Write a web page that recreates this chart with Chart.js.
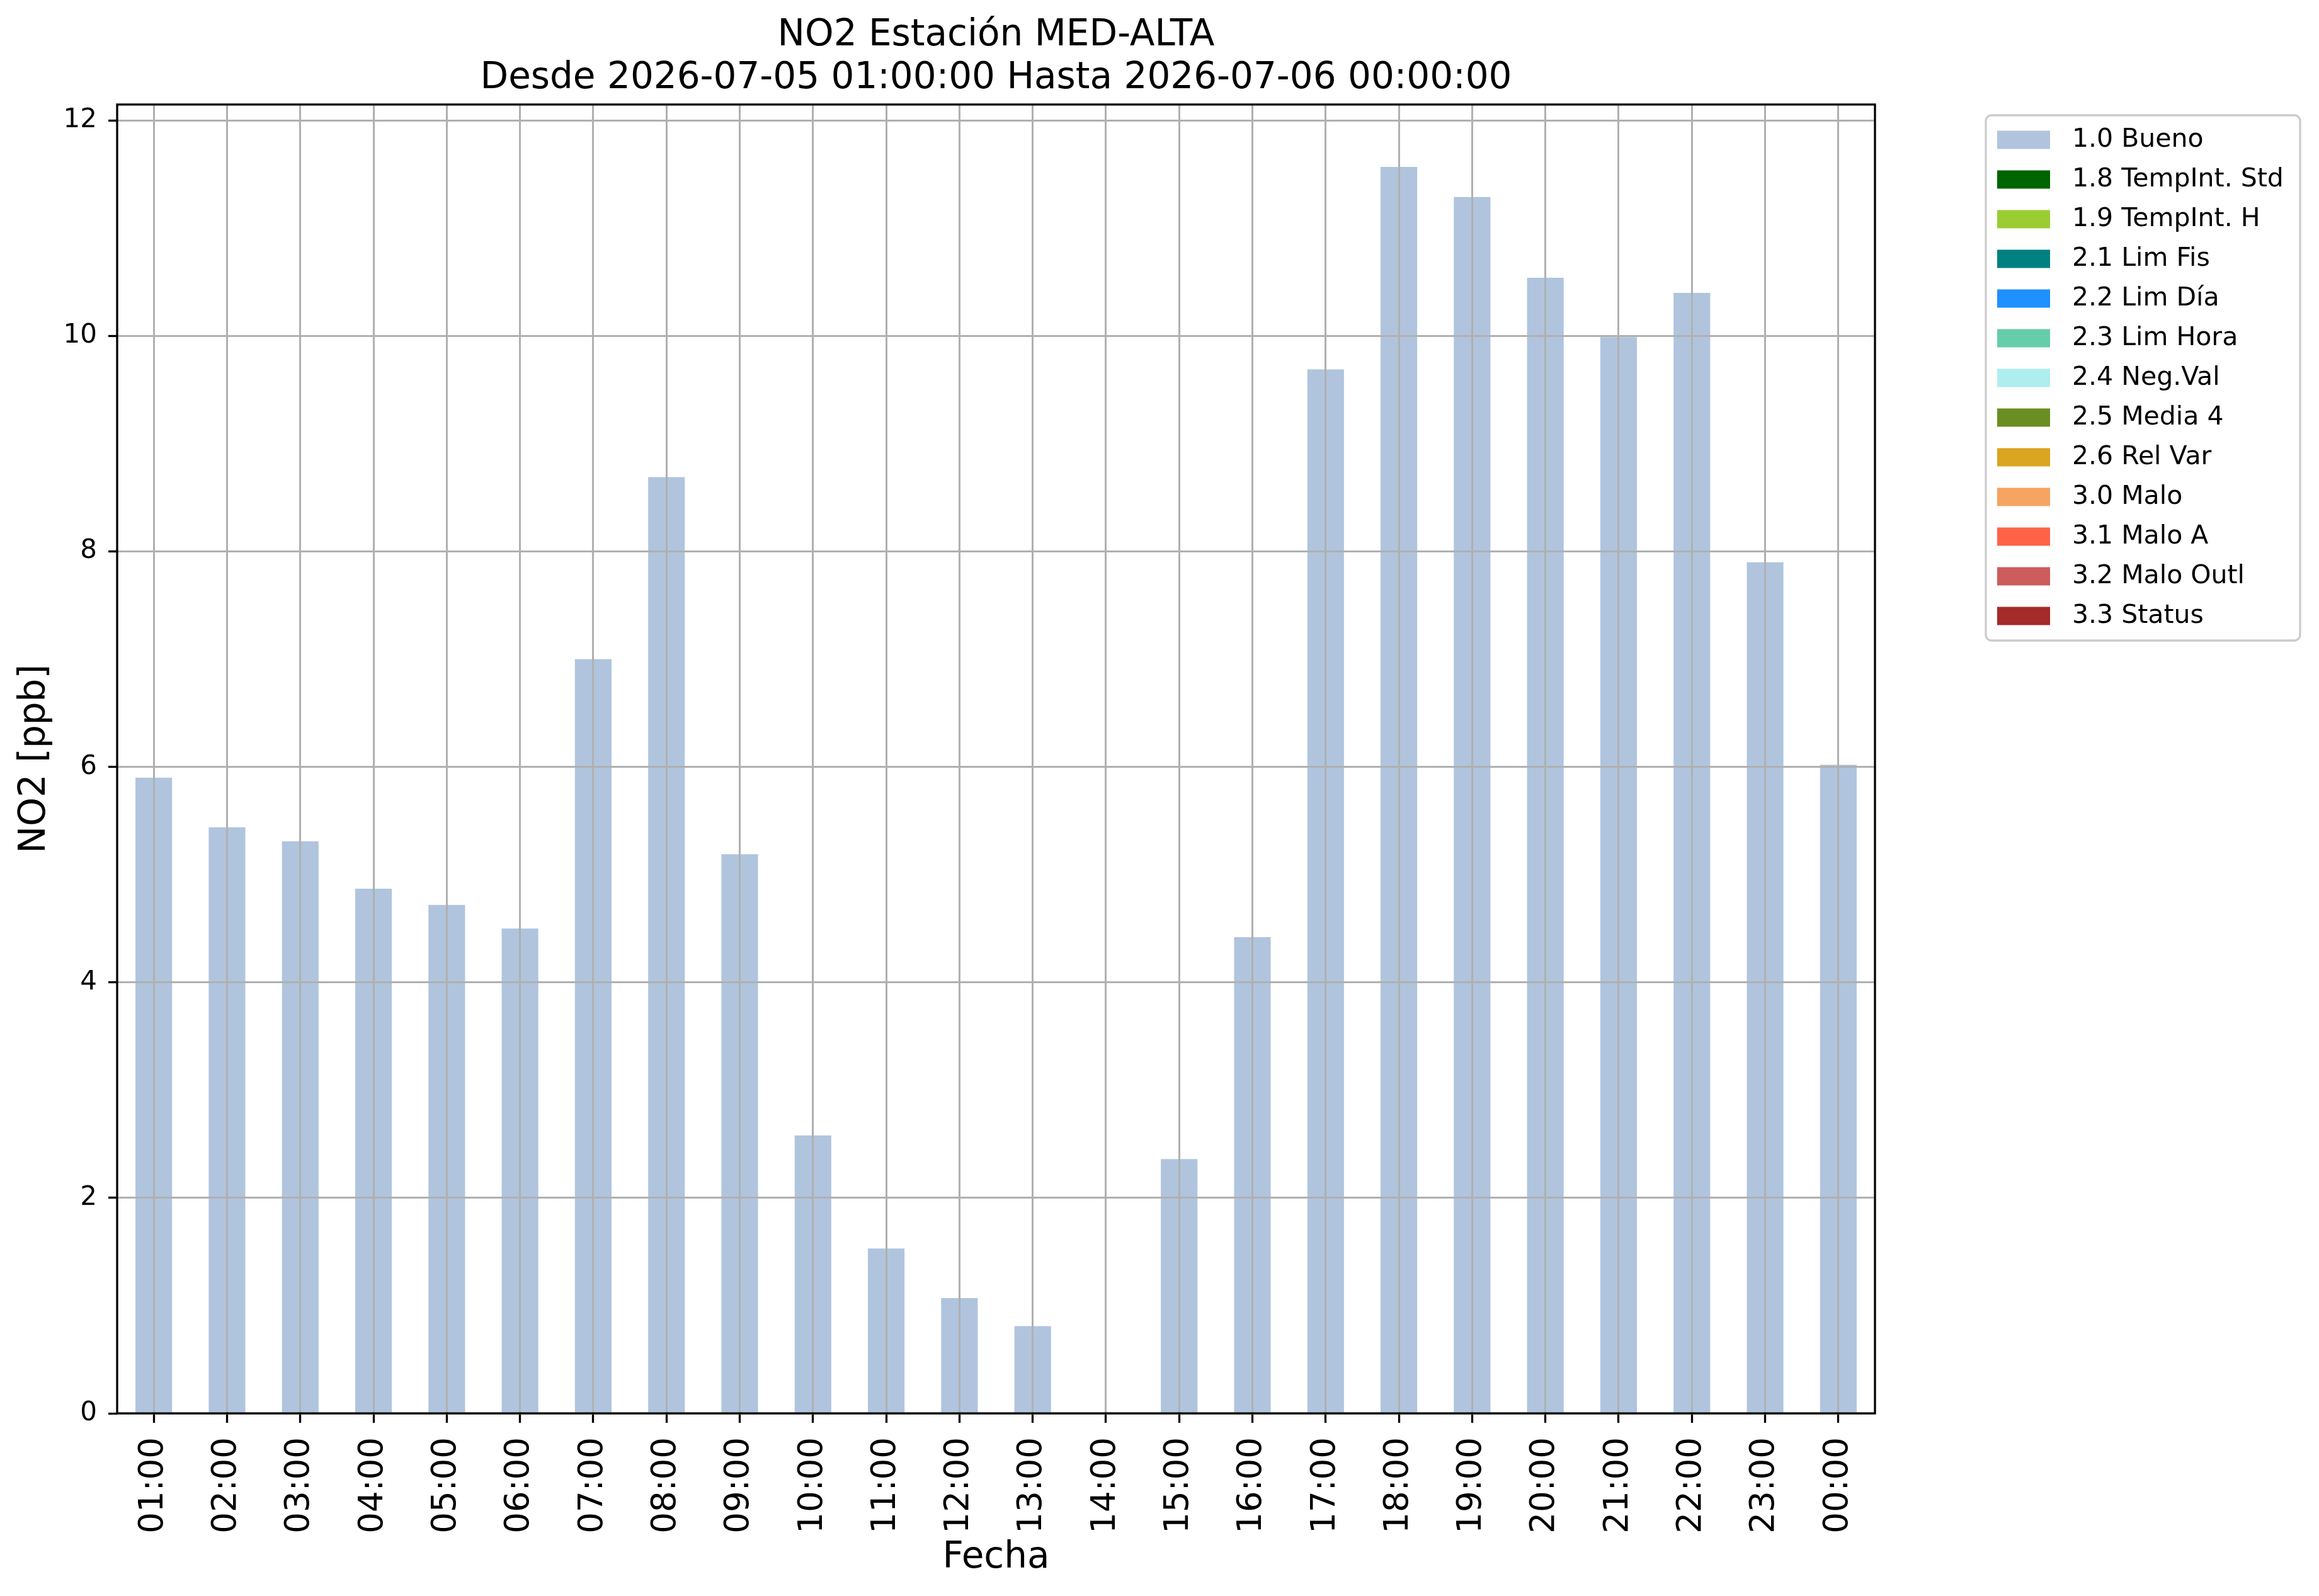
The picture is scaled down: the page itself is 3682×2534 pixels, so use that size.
<!DOCTYPE html>
<html>
<head>
<meta charset="utf-8">
<title>NO2 Estación MED-ALTA</title>
<script src="https://cdn.jsdelivr.net/npm/chart.js@4.4.1/dist/chart.umd.min.js"></script>
<style>
  html, body { margin: 0; padding: 0; background: #fff; overflow: hidden; }
  canvas { display: block; }
</style>
</head>
<body>
<canvas id="myChart" width="3682" height="2534"></canvas>
<script>
'use strict';
let hours = ['01:00', '02:00', '03:00', '04:00', '05:00', '06:00', '07:00', '08:00',
    '09:00', '10:00', '11:00', '12:00', '13:00', '14:00', '15:00', '16:00',
    '17:00', '18:00', '19:00', '20:00', '21:00', '22:00', '23:00', '00:00'];
// NO2 [ppb] con flag 1.0 Bueno
let bueno = [5.90, 5.44, 5.31, 4.87, 4.72, 4.50, 7.00, 8.69,
    5.19, 2.58, 1.53, 1.07, 0.81, 0, 2.36, 4.42,
    9.69, 11.57, 11.29, 10.54, 9.99, 10.40, 7.90, 6.02];
let flagNames = ['1.0 Bueno', '1.8 TempInt. Std', '1.9 TempInt. H', '2.1 Lim Fis',
    '2.2 Lim Día', '2.3 Lim Hora', '2.4 Neg.Val', '2.5 Media 4', '2.6 Rel Var',
    '3.0 Malo', '3.1 Malo A', '3.2 Malo Outl', '3.3 Status'];
let flagColors = ['#b0c4de', '#006400', '#9acd32', '#008080', '#1e90ff', '#66cdaa',
    '#afeeee', '#6b8e23', '#daa520', '#f4a460', '#ff6347', '#cd5c5c', '#a52a2a'];
let yStep = 2;
let titleLines = ['NO2 Estación MED-ALTA', 'Desde 2026-07-05 01:00:00 Hasta 2026-07-06 00:00:00'];

const FONT = "'DejaVu Sans', 'Liberation Sans', sans-serif";
Chart.defaults.color = '#000';
Chart.defaults.font.family = FONT;

let datasets = [];
for (let i = 0; i < flagNames.length; i++) {
    datasets.push({
        label: flagNames[i],
        data: i === 0 ? bueno : [],
        backgroundColor: flagColors[i],
        borderWidth: 0,
        barPercentage: 0.5,
        categoryPercentage: 1.0
    });
}

// marco de los cuatro lados como en matplotlib
let framePlugin = {
    id: 'frame',
    afterDraw(chart) {
        let a = chart.chartArea;
        let ctx = chart.ctx;
        ctx.save();
        ctx.strokeStyle = '#000';
        ctx.lineWidth = 3.3;
        ctx.strokeRect(a.left, a.top, a.right - a.left, a.bottom - a.top);
        ctx.restore();
    }
};

// leyenda a la derecha, fuera del área
let legendPlugin = {
    id: 'flagLegend',
    afterDraw(chart) {
        let ctx = chart.ctx;
        let x0 = 3153, y0 = 183, w = 499, h = 834;
        ctx.save();
        ctx.beginPath();
        ctx.roundRect(x0, y0, w, h, 9);
        ctx.fillStyle = 'rgba(255,255,255,0.8)';
        ctx.fill();
        ctx.lineWidth = 3.3;
        ctx.strokeStyle = '#cccccc';
        ctx.stroke();
        ctx.font = '41px ' + FONT;
        ctx.textBaseline = 'middle';
        ctx.textAlign = 'left';
        chart.data.datasets.forEach((ds, i) => {
            let cy = 222 + i * 63;
            ctx.fillStyle = ds.backgroundColor;
            ctx.fillRect(3171, cy - 14.5, 84, 29);
            ctx.fillStyle = '#000';
            ctx.fillText(ds.label, 3290, cy);
        });
        ctx.restore();
    }
};

let ctx = document.getElementById('myChart').getContext('2d');
let myChart = new Chart(ctx, {
    type: 'bar',
    data: {
        labels: hours,
        datasets: datasets
    },
    options: {
        responsive: false,
        animation: false,
        devicePixelRatio: 1,
        events: [],
        layout: { padding: { left: 0, right: 705, top: 0, bottom: 0 } },
        plugins: {
            legend: { display: false },
            tooltip: { enabled: false },
            title: {
                display: true,
                text: titleLines,
                fullSize: false,
                color: '#000',
                font: { size: 58, weight: 'normal', lineHeight: 1.172 },
                padding: { top: 23, bottom: 7 }
            }
        },
        scales: {
            x: {
                stacked: true,
                offset: true,
                grid: {
                    offset: false,
                    color: '#b0b0b0',
                    lineWidth: 3,
                    tickColor: '#000',
                    tickWidth: 3.3,
                    tickLength: 15,
                    z: 1
                },
                border: { display: false },
                ticks: {
                    autoSkip: false,
                    minRotation: 90,
                    maxRotation: 90,
                    padding: 23,
                    font: { size: 53 }
                },
                title: {
                    display: true,
                    text: 'Fecha',
                    font: { size: 58 },
                    padding: { top: 0, bottom: 25 }
                },
                afterFit(scale) { scale.height = 290; }
            },
            y: {
                stacked: true,
                min: 0,
                max: Math.max(...bueno) * 1.05,
                grid: {
                    color: '#b0b0b0',
                    lineWidth: 3,
                    tickColor: '#000',
                    tickWidth: 3.3,
                    tickLength: 14,
                    z: 1
                },
                border: { display: false },
                ticks: {
                    stepSize: yStep,
                    includeBounds: false,
                    padding: 18,
                    font: { size: 42 }
                },
                title: {
                    display: true,
                    text: 'NO2 [ppb]',
                    font: { size: 58 },
                    padding: { top: 21, bottom: 0 }
                },
                afterFit(scale) { scale.width = 186; }
            }
        }
    },
    plugins: [framePlugin, legendPlugin]
});
</script>
</body>
</html>
